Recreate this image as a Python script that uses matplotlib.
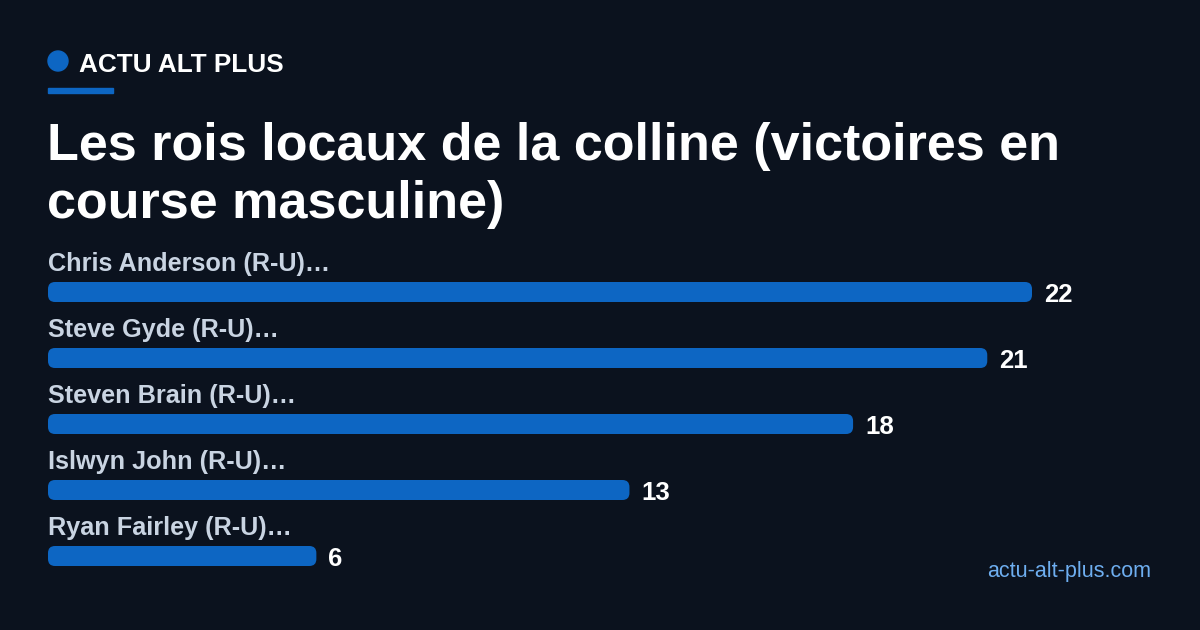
import matplotlib.pyplot as plt
from matplotlib.patches import FancyBboxPatch, Ellipse

plt.rcParams['font.family'] = ['Liberation Sans', 'DejaVu Sans']

# donnees
coureurs = ['Chris Anderson (R-U)…', 'Steve Gyde (R-U)…', 'Steven Brain (R-U)…',
            'Islwyn John (R-U)…', 'Ryan Fairley (R-U)…']
victoires = [22, 21, 18, 13, 6]

titre_l1 = 'Les rois locaux de la colline (victoires en'
titre_l2 = 'course masculine)'
marque = 'ACTU ALT PLUS'
site = 'actu-alt-plus.com'

fond = '#0b121e'
bleu = '#0d66c3'
W, H = 1200, 630


def fx(px):
    return px / W


def fy(py):
    return 1 - py / H


fig = plt.figure(figsize=(W / 100, H / 100), dpi=100, facecolor=fond)

# en-tete
fig.patches.append(Ellipse((fx(58), fy(61)), 20 / W, 20 / H,
                           transform=fig.transFigure, color=bleu))
fig.text(fx(79), fy(72), marque, color='white', fontsize=18.8, fontweight='bold',
         va='baseline')
fig.patches.append(plt.Rectangle((fx(48), fy(93)), 65 / W, 5 / H,
                                 transform=fig.transFigure, color=bleu))
fig.text(fx(47), fy(160), titre_l1, color='white', fontsize=37.5,
         fontweight='bold', va='baseline')
fig.text(fx(47), fy(218), titre_l2, color='white', fontsize=37.5,
         fontweight='bold', va='baseline')

# barres
top, bot = 240, 580
ax = fig.add_axes([fx(48), fy(bot), 984 / W, (bot - top) / H])
ax.set_facecolor('none')
ax.set_xlim(0, max(victoires))
step = 66
ax.set_ylim((bot - 292) / step, -(292 - top) / step)
ax.axis('off')

ypos = list(range(len(coureurs)))
bars = ax.barh(ypos, victoires, height=20 / step, color=bleu)

xpx = 984 / max(victoires)
r = 7
for b in bars:
    b.set_visible(False)
    fb = FancyBboxPatch((b.get_x(), b.get_y()), b.get_width(), b.get_height(),
                        boxstyle=f'round,pad=0,rounding_size={r / xpx}',
                        mutation_aspect=xpx / step, color=bleu, lw=0)
    ax.add_patch(fb)

for y, nom, v in zip(ypos, coureurs, victoires):
    ax.text(0, y - 21 / step, nom, color='#c9d4e2', fontsize=18.2,
            fontweight='bold', va='baseline', ha='left')
    ax.text(v + 12 / xpx, y + 10 / step, str(v), color='white', fontsize=18.5,
            fontweight='bold', va='baseline', ha='left')

fig.text(fx(1151), fy(577), site, color='#6eaef0', fontsize=15.5,
         ha='right', va='baseline')

fig.savefig('out.png', dpi=100, facecolor=fond)
